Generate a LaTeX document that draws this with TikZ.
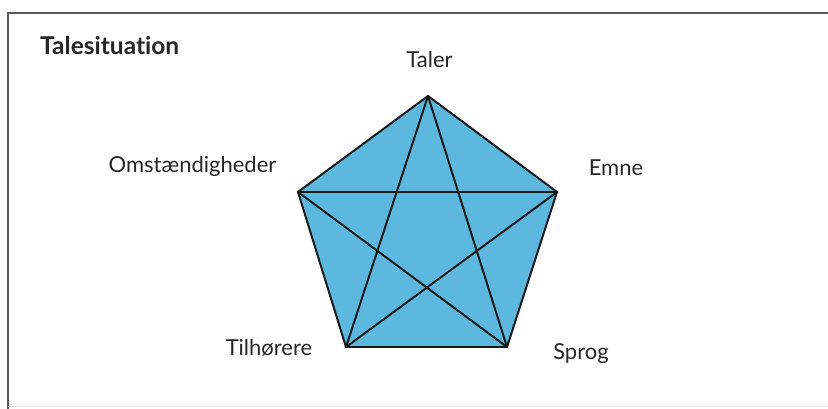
\documentclass[tikz,border=0pt]{standalone}
\usepackage{fontspec}
\setmainfont{Lato}[Ligatures=NoCommon]
\usetikzlibrary{calc, positioning}
\definecolor{pentablue}{RGB}{92,184,222}

\begin{document}
\begin{tikzpicture}[x=1pt, y=-1pt,
  lbl/.style={font=\fontsize{22}{26}\selectfont, text=black!85, inner sep=0pt, anchor=base},
  edge/.style={line width=2pt, black!90, line cap=round}]
\useasboundingbox (0,0) rectangle (828,409);

% frame
\draw[line width=1.5pt, black!65] (828,13) -- (8,13) -- (8,409);
\draw[line width=0.6pt, black!12] (8,406) -- (828,406);

\node[lbl, font=\bfseries\fontsize{24.5}{28}\selectfont, anchor=base west] (title) at (40,55) {Talesituation};

% corners of the pentagon
\coordinate (taler) at (428,96);
\coordinate (emne) at (557,192);
\coordinate (sprog) at (507,347);
\coordinate (tilh) at (346,347);
\coordinate (omst) at (298,192);

\fill[pentablue] (taler) -- (emne) -- (sprog) -- (tilh) -- (omst) -- cycle;
\foreach \a/\b in {taler/emne, emne/sprog, sprog/tilh, tilh/omst, omst/taler,
                   taler/sprog, taler/tilh, omst/emne, omst/sprog, tilh/emne}
  \draw[edge] (\a) -- (\b);

\node[lbl] (ltaler) at (429.5,68) {Taler};
\node[lbl] (lomst) at (192.5,173) {Omstændigheder};
\node[lbl] (lemne) at (616,176) {Emne};
\node[lbl] (ltilh) at (269,355) {Tilhørere};
\node[lbl] (lsprog) at (581,359) {Sprog};

\end{tikzpicture}
\end{document}
